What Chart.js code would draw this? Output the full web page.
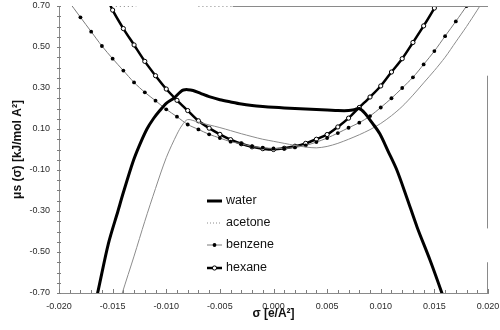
<!DOCTYPE html>
<html>
<head>
<meta charset="utf-8">
<script src="https://cdn.jsdelivr.net/npm/chart.js@4/dist/chart.umd.min.js"></script>
<style>
  html, body { margin: 0; padding: 0; background: #fff; }
  canvas { display: block; }
</style>
</head>
<body>
<canvas id="c" width="500" height="330"></canvas>
<script>
// Surface chemical potential µs(σ) of four solvents against surface charge density σ.
const seriesNames = ['water', 'acetone', 'benzene', 'hexane'];

const waterSigma = [-0.0167, -0.0164, -0.0154, -0.0145, -0.0140, -0.0131, -0.0125, -0.0118, -0.0112, -0.0106,
  -0.0100, -0.0093, -0.0087, -0.0084, -0.0080, -0.0075, -0.0068, -0.0060, -0.0050, -0.0040,
  -0.0030, -0.0020, -0.0010, 0.0000, 0.0010, 0.0020, 0.0030, 0.0040, 0.0050, 0.0060,
  0.0070, 0.0076, 0.0080, 0.0085, 0.0092, 0.0099, 0.0107, 0.0115, 0.0124, 0.0134,
  0.0146, 0.0157, 0.0160];
const waterMu = [-0.76, -0.70, -0.46, -0.30, -0.21, -0.06, 0.02, 0.10, 0.15, 0.19,
  0.225, 0.25, 0.28, 0.29, 0.292, 0.288, 0.274, 0.258, 0.243, 0.232,
  0.222, 0.215, 0.210, 0.206, 0.203, 0.200, 0.197, 0.195, 0.193, 0.190,
  0.190, 0.195, 0.200, 0.178, 0.130, 0.078, -0.01, -0.10, -0.23, -0.38,
  -0.54, -0.70, -0.75];

const acetoneSigma = [-0.0143, -0.0141, -0.0130, -0.0120, -0.0110, -0.0100, -0.0090, -0.0085, -0.0080, -0.0070,
  -0.0060, -0.0050, -0.0040, -0.0030, -0.0020, -0.0010, 0.0000, 0.0010, 0.0020, 0.0030,
  0.0040, 0.0050, 0.0060, 0.0070, 0.0080, 0.0090, 0.0100, 0.0110, 0.0120, 0.0130,
  0.0140, 0.0150, 0.0160, 0.0170, 0.0180, 0.0190, 0.0196];
const acetoneMu = [-0.74, -0.70, -0.52, -0.35, -0.19, -0.04, 0.075, 0.12, 0.146, 0.133,
  0.120, 0.107, 0.092, 0.077, 0.063, 0.050, 0.040, 0.030, 0.020, 0.012,
  0.008, 0.015, 0.030, 0.050, 0.072, 0.097, 0.127, 0.165, 0.210, 0.265,
  0.325, 0.385, 0.450, 0.525, 0.600, 0.680, 0.730];

const benzeneSigma = [-0.0192, -0.0180, -0.0170, -0.0160, -0.0150, -0.0140, -0.0130, -0.0120, -0.0110, -0.0100,
  -0.0090, -0.0080, -0.0070, -0.0060, -0.0050, -0.0040, -0.0030, -0.0020, -0.0010, 0.0000,
  0.0010, 0.0020, 0.0030, 0.0040, 0.0050, 0.0060, 0.0070, 0.0080, 0.0090, 0.0100,
  0.0110, 0.0120, 0.0130, 0.0140, 0.0150, 0.0160, 0.0170, 0.0180, 0.0184];
const benzeneMu = [0.73, 0.645, 0.575, 0.505, 0.443, 0.385, 0.327, 0.279, 0.238, 0.196,
  0.160, 0.122, 0.098, 0.074, 0.056, 0.038, 0.028, 0.015, 0.009, 0.005,
  0.005, 0.010, 0.020, 0.036, 0.056, 0.080, 0.106, 0.131, 0.163, 0.205,
  0.250, 0.300, 0.352, 0.415, 0.480, 0.553, 0.625, 0.700, 0.735];

const hexaneSigma = [-0.0158, -0.0150, -0.0140, -0.0130, -0.0120, -0.0110, -0.0100, -0.0090, -0.0080, -0.0070,
  -0.0060, -0.0050, -0.0040, -0.0030, -0.0020, -0.0010, 0.0000, 0.0010, 0.0020, 0.0030,
  0.0040, 0.0050, 0.0060, 0.0070, 0.0080, 0.0090, 0.0100, 0.0110, 0.0120, 0.0130,
  0.0140, 0.0150, 0.0158];
const hexaneMu = [0.77, 0.68, 0.59, 0.51, 0.43, 0.36, 0.295, 0.24, 0.19, 0.14,
  0.104, 0.074, 0.048, 0.028, 0.013, 0.004, 0.000, 0.006, 0.016, 0.030,
  0.050, 0.073, 0.110, 0.153, 0.205, 0.256, 0.310, 0.378, 0.443, 0.522,
  0.603, 0.690, 0.770];

const xTickLabels = ['-0.020', '-0.015', '-0.010', '-0.005', '0.000', '0.005', '0.010', '0.015', '0.020'];
const yTickLabels = ['0.70', '0.50', '0.30', '0.10', '-0.10', '-0.30', '-0.50', '-0.70'];

const FONT = "'Liberation Sans', Arial, Helvetica, sans-serif";
Chart.defaults.font.family = FONT;

function toPoints(xs, ys) { return xs.map((x, i) => ({ x: x, y: ys[i] })); }
function fmt(v, d) { if (Math.abs(v) < 1e-9) v = 0; return v.toFixed(d); }
// markers only on points inside the plotted range
const markerRadius = r => ctx => (ctx.raw && Math.abs(ctx.raw.y) <= 0.701 ? r : 0);

const datasets = [
  { label: seriesNames[0], data: toPoints(waterSigma, waterMu), borderColor: '#000', borderWidth: 3,
    pointRadius: 0, tension: 0.3, clip: 0 },
  { label: seriesNames[1], data: toPoints(acetoneSigma, acetoneMu), borderColor: '#8c8c8c', borderWidth: 1,
    pointRadius: 0, tension: 0.3, clip: 0 },
  { label: seriesNames[2], data: toPoints(benzeneSigma, benzeneMu), borderColor: '#7a7a7a', borderWidth: 1,
    pointRadius: markerRadius(1.9), pointBackgroundColor: '#000', pointBorderColor: '#000', pointBorderWidth: 0,
    tension: 0.3, clip: 0 },
  { label: seriesNames[3], data: toPoints(hexaneSigma, hexaneMu), borderColor: '#000', borderWidth: 2.5,
    pointRadius: markerRadius(2.1), pointBackgroundColor: '#fff', pointBorderColor: '#000', pointBorderWidth: 1,
    tension: 0.3, clip: 0 }
];

// Inward tick marks, frame pieces, legend and axis titles
const decorations = {
  id: 'decorations',
  afterDraw(chart) {
    const { ctx, chartArea: a, scales: { x, y } } = chart;
    ctx.save();
    ctx.strokeStyle = '#7c7c7c';
    ctx.lineWidth = 1;
    ctx.beginPath();
    x.ticks.forEach(t => {
      const px = Math.round(x.getPixelForValue(t.value)) + 0.5;
      const len = t.label ? 4 : 3;
      ctx.moveTo(px, a.bottom); ctx.lineTo(px, a.bottom - len);
    });
    y.ticks.forEach(t => {
      const py = Math.round(y.getPixelForValue(t.value)) + 0.5;
      ctx.moveTo(a.left - 2, py); ctx.lineTo(a.left + 2, py);
    });
    ctx.stroke();

    // frame: top edge and right edge
    ctx.strokeStyle = '#8a8a8a';
    ctx.beginPath();
    const topY = Math.round(a.top) + 0.5;
    ctx.moveTo(x.getPixelForValue(-0.0038), topY); ctx.lineTo(a.right, topY);
    const rx = Math.round(a.right) - 0.5;
    ctx.moveTo(rx, y.getPixelForValue(0.36)); ctx.lineTo(rx, y.getPixelForValue(-0.385));
    ctx.moveTo(rx, y.getPixelForValue(-0.55)); ctx.lineTo(rx, a.bottom);
    ctx.stroke();
    ctx.setLineDash([1, 3]);
    ctx.beginPath();
    ctx.moveTo(x.getPixelForValue(-0.0147), topY); ctx.lineTo(x.getPixelForValue(-0.0128), topY);
    ctx.moveTo(x.getPixelForValue(-0.0070), topY); ctx.lineTo(x.getPixelForValue(-0.0038), topY);
    ctx.stroke();
    ctx.setLineDash([]);

    // legend
    const lx0 = 207, lx1 = 222, tx = 226;
    const rows = [201, 223, 245, 268];
    const ds = chart.data.datasets;
    ctx.font = '12.5px ' + FONT;
    ctx.textBaseline = 'middle';
    ctx.textAlign = 'left';
    rows.forEach((ry, i) => {
      const d = ds[i];
      ctx.beginPath();
      ctx.strokeStyle = d.borderColor;
      ctx.lineWidth = d.borderWidth;
      if (i === 1) ctx.setLineDash([1, 2]);
      ctx.moveTo(lx0, ry); ctx.lineTo(lx1, ry);
      ctx.stroke();
      ctx.setLineDash([]);
      const cx = (lx0 + lx1) / 2;
      if (i === 2) {
        ctx.beginPath(); ctx.fillStyle = '#000';
        ctx.arc(cx, ry, 1.9, 0, Math.PI * 2); ctx.fill();
      }
      if (i === 3) {
        ctx.beginPath(); ctx.fillStyle = '#fff'; ctx.strokeStyle = '#000'; ctx.lineWidth = 1;
        ctx.arc(cx, ry, 2.1, 0, Math.PI * 2); ctx.fill(); ctx.stroke();
      }
      ctx.fillStyle = '#111';
      ctx.fillText(d.label, tx, ry);
    });

    // axis titles
    ctx.fillStyle = '#111';
    ctx.font = 'bold 12px ' + FONT;
    ctx.textAlign = 'center';
    ctx.textBaseline = 'middle';
    ctx.fillText('σ [e/A²]', (a.left + a.right) / 2, 314);
    ctx.save();
    ctx.translate(18, (a.top + a.bottom) / 2);
    ctx.rotate(-Math.PI / 2);
    ctx.fillText('μs (σ) [kJ/mol A²]', 0, 0);
    ctx.restore();
    ctx.restore();
  }
};

new Chart(document.getElementById('c'), {
  type: 'line',
  data: { datasets: datasets },
  options: {
    responsive: false,
    animation: false,
    devicePixelRatio: 1,
    layout: { padding: { top: 6, right: 12, left: 0, bottom: 0 } },
    plugins: { legend: { display: false }, tooltip: { enabled: false } },
    scales: {
      x: {
        type: 'linear', min: -0.02, max: 0.02,
        grid: { display: false, drawTicks: false },
        border: { display: true, color: '#8a8a8a', width: 1 },
        ticks: {
          stepSize: 0.001, autoSkip: false, maxRotation: 0, padding: 8,
          color: '#2a2a2a', font: { size: 9 },
          callback: v => (xTickLabels.includes(fmt(v, 3)) ? fmt(v, 3) : '')
        },
        afterFit: s => { s.height = 37; s.paddingLeft = 0; s.paddingRight = 0; }
      },
      y: {
        type: 'linear', min: -0.7, max: 0.7,
        grid: { display: false, drawTicks: false },
        border: { display: true, color: '#8a8a8a', width: 1 },
        ticks: {
          stepSize: 0.05, autoSkip: false, padding: 9,
          color: '#2a2a2a', font: { size: 9 },
          callback: v => (yTickLabels.includes(fmt(v, 2)) ? fmt(v, 2) : '')
        },
        afterFit: s => { s.width = 59; s.paddingTop = 0; s.paddingBottom = 0; }
      }
    }
  },
  plugins: [decorations]
});
</script>
</body>
</html>
